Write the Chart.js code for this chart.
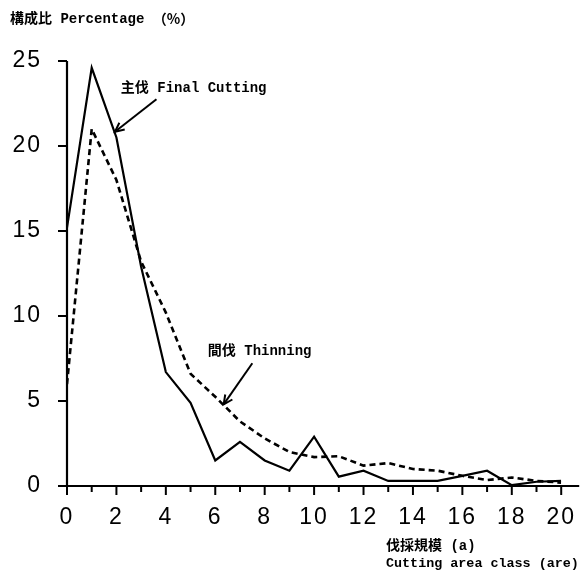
<!DOCTYPE html>
<html>
<head>
<meta charset="utf-8">
<script src="https://cdn.jsdelivr.net/npm/chart.js@4/dist/chart.umd.min.js"></script>
<style>
html,body{margin:0;padding:0;background:#fff;}
#wrap{width:584px;height:579px;position:relative;}
</style>
</head>
<body>
<div id="wrap"><canvas id="c" width="584" height="579"></canvas></div>
<script>
// ---- data ----
const areaClasses = [0,1,2,3,4,5,6,7,8,9,10,11,12,13,14,15,16,17,18,19,20];
const finalCutting = [15.2,24.6,20.5,12.9,6.7,4.9,1.5,2.6,1.5,0.9,2.9,0.55,0.9,0.3,0.3,0.3,0.6,0.9,0.05,0.25,0.3];
const thinning = [6.0,21.0,18.0,13.2,10.2,6.6,5.25,3.8,2.8,2.0,1.7,1.75,1.2,1.35,1.0,0.9,0.6,0.35,0.5,0.3,0.2];
const yTicks = [0,5,10,15,20,25];
const xTickLabels = [0,2,4,6,8,10,12,14,16,18,20];

const titleMain = "構成比 Percentage ";
const titleUnit = "（%）";
const xTitle1 = "伐採規模 (a)";
const xTitle2 = "Cutting area class (are)";
const finalLabel = "主伐 Final Cutting";
const thinLabel = "間伐 Thinning";

const toPts = arr => areaClasses.map((x,i)=>({x:x,y:arr[i]}));
const labelFont = "bold 14px 'Liberation Mono', 'Noto Sans CJK JP', monospace";

function arrow(ctx, x1,y1,x2,y2){
  ctx.beginPath(); ctx.moveTo(x1,y1); ctx.lineTo(x2,y2); ctx.stroke();
  const a = Math.atan2(y2-y1,x2-x1), L=10, w=0.45;
  ctx.beginPath();
  ctx.moveTo(x2-L*Math.cos(a-w), y2-L*Math.sin(a-w));
  ctx.lineTo(x2,y2);
  ctx.lineTo(x2-L*Math.cos(a+w), y2-L*Math.sin(a+w));
  ctx.stroke();
}

const decor = {
  id:'decor',
  beforeDraw(chart){
    chart.ctx.letterSpacing = '2px';
  },
  afterDraw(chart){
    const ctx = chart.ctx, xs = chart.scales.x, ys = chart.scales.y;
    ctx.save();
    ctx.letterSpacing = '0px';
    ctx.strokeStyle = '#000'; ctx.fillStyle = '#000';
    const x0 = xs.getPixelForValue(0), y0 = ys.getPixelForValue(0);
    // axes
    ctx.lineWidth = 2.2;
    ctx.beginPath(); ctx.moveTo(x0, y0); ctx.lineTo(x0, ys.getPixelForValue(25)); ctx.stroke();
    ctx.beginPath(); ctx.moveTo(x0-7, y0); ctx.lineTo(xs.getPixelForValue(20)+18, y0); ctx.stroke();
    // y ticks
    ctx.lineWidth = 2;
    yTicks.forEach(v=>{ const p=ys.getPixelForValue(v); ctx.beginPath(); ctx.moveTo(x0-9,p); ctx.lineTo(x0,p); ctx.stroke(); });
    // x ticks
    areaClasses.forEach(v=>{ const p=xs.getPixelForValue(v); const L = v%2===0?9:6; ctx.beginPath(); ctx.moveTo(p,y0); ctx.lineTo(p,y0+L); ctx.stroke(); });
    // texts
    ctx.font = labelFont; ctx.textBaseline = 'middle'; ctx.textAlign='left';
    ctx.fillText(titleMain, 10, 19);
    const tw = ctx.measureText(titleMain).width;
    ctx.font = "bold 14px 'Noto Sans CJK JP', sans-serif";
    ctx.fillText(titleUnit, 10 + tw, 19);
    ctx.font = labelFont;
    ctx.fillText(xTitle1, 386, 546);
    ctx.font = "bold 13.4px 'Liberation Mono', 'Noto Sans CJK JP', monospace";
    ctx.fillText(xTitle2, 386, 564);
    ctx.font = labelFont;
    ctx.fillText(finalLabel, xs.getPixelForValue(2.18), ys.getPixelForValue(23.36));
    ctx.fillText(thinLabel, xs.getPixelForValue(5.7), ys.getPixelForValue(7.9));
    // arrows
    ctx.lineWidth = 2;
    arrow(ctx, xs.getPixelForValue(3.62), ys.getPixelForValue(22.75), xs.getPixelForValue(1.94), ys.getPixelForValue(20.84));
    arrow(ctx, xs.getPixelForValue(7.5), ys.getPixelForValue(7.22), xs.getPixelForValue(6.34), ys.getPixelForValue(4.8));
    ctx.restore();
  }
};

new Chart(document.getElementById('c'), {
  type:'line',
  data:{
    datasets:[
      {label:'Final Cutting', data:toPts(finalCutting), borderColor:'#000', borderWidth:2.2, pointRadius:0, tension:0, fill:false},
      {label:'Thinning', data:toPts(thinning), borderColor:'#000', borderWidth:2.6, borderDash:[6,4], pointRadius:0, tension:0, fill:false}
    ]
  },
  options:{
    responsive:false, animation:false,
    layout:{padding:{left:0,right:22,top:61,bottom:0}},
    plugins:{legend:{display:false}, tooltip:{enabled:false}},
    scales:{
      x:{type:'linear', min:0, max:20, grid:{display:false}, border:{display:false},
        ticks:{stepSize:2, autoSkip:false, maxRotation:0, padding:10, color:'#000',
          font:{family:"'Liberation Sans', Arial, sans-serif", size:23},
          callback:(v)=> xTickLabels.includes(v) ? String(v) : ''},
        afterFit:(s)=>{s.height=93;}},
      y:{type:'linear', min:0, max:25, grid:{display:false}, border:{display:false},
        ticks:{stepSize:5, padding:17, color:'#000',
          font:{family:"'Liberation Sans', Arial, sans-serif", size:23}},
        afterFit:(s)=>{s.width=67;}}
    }
  },
  plugins:[decor]
});
</script>
</body>
</html>
